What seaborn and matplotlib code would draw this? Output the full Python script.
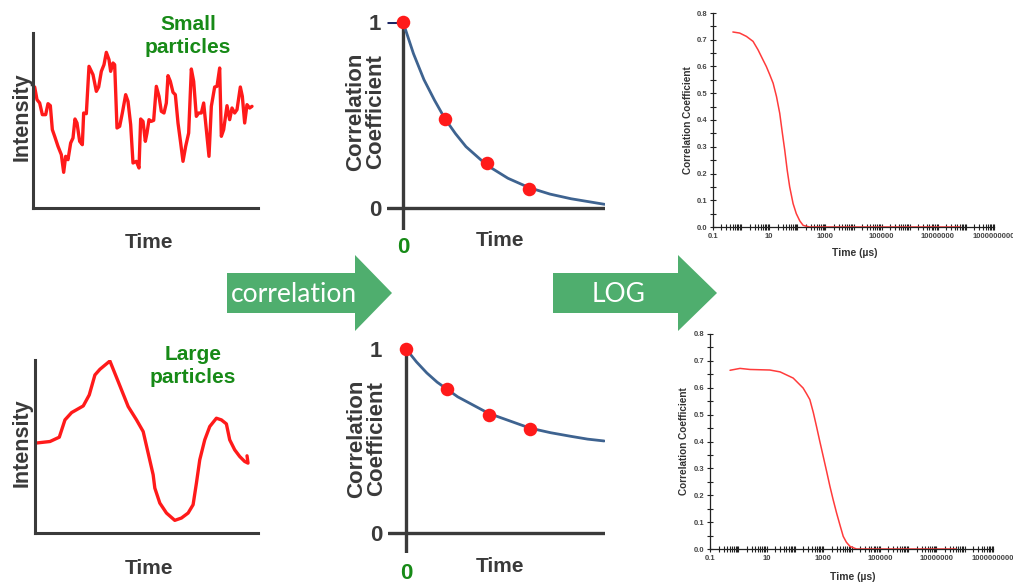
import numpy as np
import pandas as pd
import matplotlib
matplotlib.use("Agg")
import matplotlib.pyplot as plt
from matplotlib.patches import Polygon
from matplotlib.ticker import LogLocator, MultipleLocator, FormatStrFormatter, NullFormatter
import seaborn as sns

# intensity traces (arbitrary units)
small_time = [5, 12, 20, 28, 38, 45, 52, 58, 65, 75, 85, 92, 98, 105, 113, 120, 126, 132, 140, 148,
              152, 160, 168, 180, 190, 197, 205, 213, 220, 228, 233, 240, 245, 252, 260, 268, 278, 285,
              293, 300, 310, 318, 323, 330, 337, 342, 348, 355, 362, 370, 378, 385, 393, 400, 405, 412,
              420, 427, 435, 443, 450, 458, 467, 475, 482, 490, 497, 505, 512, 520, 528, 535, 545, 552,
              560, 565, 572, 582, 590, 597, 605, 612, 622, 628, 635, 642, 650, 657]
small_intensity = [363, 325, 315, 280, 280, 313, 307, 235, 215, 185, 160, 107, 155, 145, 195, 210, 267,
                   255, 200, 190, 285, 283, 425, 400, 350, 363, 410, 430, 467, 445, 410, 435, 430, 240,
                   245, 285, 340, 320, 250, 135, 140, 120, 267, 260, 200, 225, 265, 260, 263, 365, 335,
                   290, 285, 315, 397, 380, 347, 340, 255, 195, 140, 185, 225, 417, 380, 275, 285, 285,
                   315, 235, 155, 305, 363, 365, 420, 215, 235, 307, 265, 300, 285, 295, 363, 335, 255,
                   310, 300, 305]
large_time = [0, 45, 73, 90, 110, 145, 163, 180, 195, 225, 250, 280, 305, 325, 340, 355, 360, 375, 395,
              420, 440, 460, 475, 485, 495, 510, 525, 545, 560, 575, 585, 600, 615, 630, 640, 637]
large_intensity = [270, 275, 288, 340, 362, 382, 415, 475, 492, 517, 455, 380, 340, 305, 240, 175, 135,
                   90, 60, 38, 45, 60, 85, 150, 220, 280, 320, 345, 340, 328, 280, 250, 230, 215, 210, 232]

# correlation decay (linear time)
lag_curve = [0, 0.25, 0.5, 0.75, 1, 1.25, 1.5, 1.75, 2, 2.5, 3, 3.5, 4, 4.4, 4.8]
small_curve = [1.0, 0.83, 0.69, 0.58, 0.48, 0.40, 0.33, 0.28, 0.23, 0.16, 0.11, 0.075, 0.05, 0.035, 0.02]
large_curve = [1.0, 0.93, 0.87, 0.82, 0.78, 0.74, 0.71, 0.68, 0.65, 0.61, 0.57, 0.545, 0.525, 0.51, 0.50]
lag_points = [0, 1, 2, 3]
small_points = [1.0, 0.48, 0.24, 0.10]
large_points = [1.0, 0.78, 0.64, 0.565]

# correlation vs log time (us)
small_log_time = [0.51, 0.89, 1.55, 2.66, 4.0, 6.0, 7.9, 10.5, 13.8, 18.2, 23.7, 29.5, 35.7, 43.7,
                  53.6, 70.8, 92, 123, 162, 275, 1000, 1e5, 1e7, 6.2e7]
small_log_corr = [0.729, 0.725, 0.7125, 0.694, 0.6625, 0.625, 0.60, 0.569, 0.5375, 0.4875, 0.425,
                  0.35, 0.2875, 0.2125, 0.15, 0.0875, 0.05, 0.0225, 0.006, 0, 0, 0, 0, 0]
large_log_time = [0.51, 1.15, 2.6, 13, 30, 87, 195, 257, 337, 447, 580, 760, 1000, 1320, 1730, 2240,
                  2970, 3890, 5100, 6610, 8800, 11500, 15000, 1e6, 5e7]
large_log_corr = [0.665, 0.672, 0.668, 0.666, 0.659, 0.636, 0.599, 0.578, 0.556, 0.508, 0.456, 0.40,
                  0.345, 0.289, 0.233, 0.184, 0.134, 0.09, 0.047, 0.025, 0.01, 0.005, 0.0, 0.0, 0.0]
log_ticks = [1e-1, 1e0, 1e1, 1e2, 1e3, 1e4, 1e5, 1e6, 1e7, 1e8, 1e9]
log_tick_labels = ["0.1", "", "10", "", "1000", "", "100000", "", "10000000", "", "1000000000"]

sns.set_style("white")
plt.rcParams["font.family"] = ["Liberation Sans", "DejaVu Sans"]

RED = "#ff1a1a"
AXIS = "#3a3a3a"
GREEN = "#178a17"
BLUE = "#3e6390"
ARROW = "#4fae6e"

W, H = 1013, 583
fig = plt.figure(figsize=(10.13, 5.83), dpi=100)


def px_axes(left, top, right, bottom):
    return fig.add_axes([left / W, 1 - bottom / H, (right - left) / W, (bottom - top) / H])


# background layer for arrows and titles (pixel coordinates)
bg = fig.add_axes([0, 0, 1, 1])
bg.set_xlim(0, W)
bg.set_ylim(H, 0)
bg.axis("off")
for body_l, head_l, tip, word in [(227, 355, 392, "correlation"), (553, 678, 717, "LOG")]:
    bg.add_patch(Polygon([(body_l, 273), (head_l, 273), (head_l, 255), (tip, 293),
                          (head_l, 331), (head_l, 313), (body_l, 313)], closed=True,
                         facecolor=ARROW, edgecolor="none"))
    bg.text((body_l + head_l) / 2 + 3, 294, word, color="white", fontsize=19,
            family=["Lato", "DejaVu Sans"], ha="center", va="center")
bg.text(188, 36, "Small\nparticles", color=GREEN, fontsize=15, fontweight="bold",
        ha="center", va="center", linespacing=1.3)
bg.text(193, 366, "Large\nparticles", color=GREEN, fontsize=15, fontweight="bold",
        ha="center", va="center", linespacing=1.3)


def trace_panel(box, t, i, xmax, ymax):
    ax = px_axes(*box)
    df = pd.DataFrame({"t": t, "i": i})
    sns.lineplot(data=df, x="t", y="i", ax=ax, color=RED, lw=2.4, sort=False, estimator=None)
    ax.set_xlim(0, xmax)
    ax.set_ylim(0, ymax)
    ax.set_xticks([])
    ax.set_yticks([])
    ax.patch.set_alpha(0)
    for s in ["top", "right"]:
        ax.spines[s].set_visible(False)
    for s in ["left", "bottom"]:
        ax.spines[s].set_color(AXIS)
        ax.spines[s].set_linewidth(2.2)
    bottom, top = box[3], box[1]
    h = bottom - top
    w = box[2] - box[0]
    ax.set_xlabel("Time", fontsize=15, fontweight="bold", color=AXIS, va="center")
    ax.xaxis.set_label_coords((149 - box[0]) / w, -35 / h)
    ax.set_ylabel("Intensity", fontsize=15.5, fontweight="bold", color=AXIS, va="center")
    ax.yaxis.set_label_coords((22 - box[0]) / w, 0.52)
    return ax


trace_panel((33, 33, 258, 208), small_time, small_intensity, 675, 525)
trace_panel((35, 360, 258, 533), large_time, large_intensity, 670, 520)


def decay_panel(box, curve, points, xlim, ylim, nav_tick, zero_pad, label_xy):
    ax = px_axes(*box)
    ax.patch.set_alpha(0)
    sns.lineplot(x=lag_curve, y=curve, ax=ax, color=BLUE, lw=2.0, zorder=3)
    sns.scatterplot(x=lag_points, y=points, ax=ax, color=RED, s=95, linewidth=0,
                    zorder=5, clip_on=False)
    ax.axhline(0, color=AXIS, lw=2.4, zorder=2)
    ax.axvline(0, color=AXIS, lw=2.4, zorder=2)
    if nav_tick:
        ax.hlines(1, xlim[0], 0, color="#1c2664", lw=2.2, zorder=2)
    ax.set_xlim(*xlim)
    ax.set_ylim(*ylim)
    for s in ax.spines.values():
        s.set_visible(False)
    ax.set_yticks([0, 1])
    ax.set_yticklabels(["0", "1"])
    ax.set_xticks([0])
    ax.set_xticklabels(["0"])
    ax.tick_params(axis="y", length=0, pad=4, labelsize=16, labelcolor=AXIS)
    ax.tick_params(axis="x", length=0, pad=zero_pad, labelsize=16, labelcolor=GREEN)
    for lab in ax.get_xticklabels() + ax.get_yticklabels():
        lab.set_fontweight("bold")
    w = box[2] - box[0]
    h = box[3] - box[1]
    ax.set_ylabel("Correlation\nCoefficient", fontsize=16, fontweight="bold", color=AXIS,
                  va="center", linespacing=0.95)
    ax.yaxis.set_label_coords((label_xy[0] - box[0]) / w, (box[3] - label_xy[1]) / h)
    ax.set_xlabel("Time", fontsize=15, fontweight="bold", color=AXIS, va="center")
    ax.xaxis.set_label_coords((500 - box[0]) / w, (box[3] - label_xy[2]) / h)
    return ax


decay_panel((387, 22, 605, 230), small_curve, small_points, (-0.38, 4.81), (-0.118, 1.0),
            True, 5, (366, 112, 240))
decay_panel((388, 349, 605, 553), large_curve, large_points, (-0.44, 4.82), (-0.109, 1.0),
            False, 7, (367, 439, 567))


def log_panel(box, t, g, xlab_y, ylab_x):
    ax = px_axes(*box)
    ax.patch.set_alpha(0)
    sns.lineplot(x=t, y=g, ax=ax, color="#ff3b3b", lw=1.1, zorder=1, clip_on=False)
    ax.set_xscale("log")
    ax.set_xlim(0.1, 1e9)
    ax.set_ylim(0, 0.8)
    for s in ["top", "right"]:
        ax.spines[s].set_visible(False)
    for s in ["left", "bottom"]:
        ax.spines[s].set_color("#222222")
        ax.spines[s].set_linewidth(0.9)
    ax.set_xticks(log_ticks)
    ax.set_xticklabels(log_tick_labels)
    ax.xaxis.set_minor_locator(LogLocator(base=10, subs=np.arange(2, 10), numticks=100))
    ax.xaxis.set_minor_formatter(NullFormatter())
    ax.yaxis.set_major_locator(MultipleLocator(0.1))
    ax.yaxis.set_minor_locator(MultipleLocator(0.05))
    ax.yaxis.set_major_formatter(FormatStrFormatter("%.1f"))
    ax.tick_params(which="both", bottom=True, left=True, direction="inout", length=4,
                   width=0.8, color="#222222")
    ax.tick_params(axis="both", which="major", labelsize=5.5, labelcolor="#444444", pad=2)
    for lab in ax.get_xticklabels() + ax.get_yticklabels():
        lab.set_fontweight("bold")
    w = box[2] - box[0]
    h = box[3] - box[1]
    ax.set_xlabel("Time (µs)", fontsize=7.5, fontweight="bold", color="#333333", va="center")
    ax.xaxis.set_label_coords(0.505, (box[3] - xlab_y) / h)
    ax.set_ylabel("Correlation Coefficient", fontsize=7.2, fontweight="bold", color="#333333",
                  va="center")
    ax.yaxis.set_label_coords((ylab_x - box[0]) / w, 0.5)
    return ax


log_panel((713, 13, 994, 227), small_log_time, small_log_corr, 253, 688)
log_panel((710, 334, 993, 549), large_log_time, large_log_corr, 577, 684)

fig.savefig("out.png", dpi=100, facecolor="white")
